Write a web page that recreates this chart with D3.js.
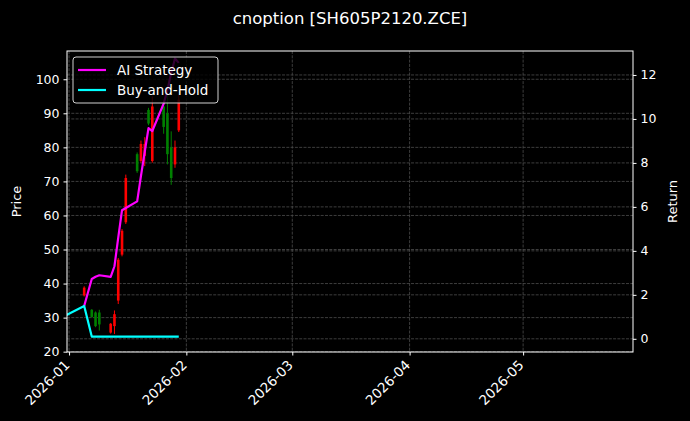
<!DOCTYPE html>
<html>
<head>
<meta charset="utf-8">
<script src="https://cdn.jsdelivr.net/npm/d3@7"></script>
<style>
  html, body { margin: 0; padding: 0; background: #000; }
  svg { display: block; font-family: "DejaVu Sans", sans-serif; }
</style>
</head>
<body>
<div id="chart"></div>
<script>
// candles (price axis)
const candleDates = ['2026-01-05', '2026-01-07', '2026-01-08', '2026-01-09', '2026-01-12', '2026-01-13', '2026-01-14',
    '2026-01-15', '2026-01-16', '2026-01-19', '2026-01-20', '2026-01-21', '2026-01-22', '2026-01-23',
    '2026-01-26', '2026-01-27', '2026-01-28', '2026-01-29', '2026-01-30'];
const opens  = [36.5, 32.3, 31.5, 31.5, 25.6, 27.5, 35.0, 48.5, 58.0, 78.0, 76.0, 77.5, 91.0, 76.0, 92.0, 90.0, 80.0, 75.0, 85.0];
const closes = [38.8, 30.2, 27.5, 28.0, 28.2, 31.0, 47.0, 55.5, 71.0, 73.0, 81.0, 81.0, 87.0, 92.0, 86.0, 78.0, 71.0, 80.0, 94.0];
const highs  = [39.2, 32.5, 31.8, 32.3, 28.4, 32.1, 47.5, 56.0, 72.0, 78.5, 82.0, 83.0, 91.6, 95.0, 93.0, 95.4, 84.7, 82.0, 95.4];
const lows   = [36.2, 30.0, 27.2, 26.2, 25.3, 25.2, 34.0, 48.0, 57.5, 72.5, 75.5, 74.5, 86.5, 75.5, 84.0, 75.0, 69.0, 74.0, 84.5];

// return lines (right axis)
const lineDates = ['2025-12-31', '2026-01-05', '2026-01-07', '2026-01-08', '2026-01-09', '2026-01-12', '2026-01-13',
    '2026-01-14', '2026-01-15', '2026-01-16', '2026-01-19', '2026-01-20', '2026-01-21', '2026-01-22',
    '2026-01-23', '2026-01-26', '2026-01-27', '2026-01-28', '2026-01-29', '2026-01-30'];
const aiReturn = [null, 1.49, 2.72, 2.82, 2.89, 2.82, 3.30, 4.60, 5.85, 5.95, 6.25, 7.40, 8.50, 9.58, 9.45, 10.70, 11.30, 12.10, 12.75, 12.55];
const bhReturn = [1.05, 1.49, 0.10, 0.10, 0.10, 0.10, 0.10, 0.10, 0.10, 0.10, 0.10, 0.10, 0.10, 0.10, 0.10, 0.10, 0.10, 0.10, 0.10, 0.10];

const priceTicks = [20, 30, 40, 50, 60, 70, 80, 90, 100];
const returnTicks = [0, 2, 4, 6, 8, 10, 12];
const monthTicks = ['2026-01-01', '2026-02-01', '2026-03-01', '2026-04-01', '2026-05-01'];
const seriesNames = ['AI Strategy', 'Buy-and-Hold'];
const seriesColors = ['#ff00ff', '#00ffff'];
const chartTitle = 'cnoption [SH605P2120.ZCE]';

const width = 690, height = 421;
const plotLeft = 67, plotRight = 633, plotTop = 51, plotBottom = 352;
const parse = s => new Date(s + 'T00:00:00Z');

const svg = d3.select('#chart').append('svg')
    .attr('width', width)
    .attr('height', height);

svg.append('rect').attr('width', width).attr('height', height).attr('fill', '#000');

const x = d3.scaleUtc()
    .domain([new Date('2025-12-31T11:00:00Z'), new Date('2026-05-30T01:00:00Z')])
    .range([plotLeft, plotRight]);
const yPrice = d3.scaleLinear().domain([19.9, 108.3]).range([plotBottom, plotTop]);
const yRet = d3.scaleLinear().domain([-0.6, 13.09]).range([plotBottom, plotTop]);

svg.append('clipPath').attr('id', 'plot-clip')
    .append('rect')
    .attr('x', plotLeft).attr('y', plotTop)
    .attr('width', plotRight - plotLeft).attr('height', plotBottom - plotTop);

// grid
const grid = svg.append('g')
    .attr('stroke', '#4d4d4d')
    .attr('stroke-width', 0.8)
    .attr('stroke-dasharray', '3,1.3');
grid.selectAll('.gx').data(monthTicks.map(parse)).enter().append('line')
    .attr('x1', d => x(d)).attr('x2', d => x(d))
    .attr('y1', plotTop).attr('y2', plotBottom);
grid.selectAll('.gp').data(priceTicks).enter().append('line')
    .attr('x1', plotLeft).attr('x2', plotRight)
    .attr('y1', d => yPrice(d)).attr('y2', d => yPrice(d));
grid.selectAll('.gr').data(returnTicks).enter().append('line')
    .attr('x1', plotLeft).attr('x2', plotRight)
    .attr('y1', d => yRet(d)).attr('y2', d => yRet(d));

// candles
const candles = candleDates.map((d, i) => ({
    date: parse(d), o: opens[i], c: closes[i], h: highs[i], l: lows[i]
}));
const candleColor = d => d.c >= d.o ? '#ff0000' : '#008000';
const plot = svg.append('g').attr('clip-path', 'url(#plot-clip)');

plot.selectAll('.wick').data(candles).enter().append('line')
    .attr('class', 'wick')
    .attr('x1', d => x(d.date)).attr('x2', d => x(d.date))
    .attr('y1', d => yPrice(d.h)).attr('y2', d => yPrice(d.l))
    .attr('stroke', candleColor)
    .attr('stroke-width', 1);

plot.selectAll('.body').data(candles).enter().append('rect')
    .attr('class', 'body')
    .attr('x', d => x(d.date) - 1.3)
    .attr('width', 2.6)
    .attr('y', d => yPrice(Math.max(d.o, d.c)))
    .attr('height', d => Math.max(1, Math.abs(yPrice(d.o) - yPrice(d.c))))
    .attr('fill', candleColor);

// return lines
const series = [aiReturn, bhReturn];
const line = d3.line()
    .defined(d => d.v !== null)
    .x(d => x(d.date))
    .y(d => yRet(d.v));
series.forEach((vals, k) => {
    const pts = lineDates.map((d, i) => ({ date: parse(d), v: vals[i] }));
    plot.append('path')
        .datum(pts)
        .attr('d', line)
        .attr('fill', 'none')
        .attr('stroke', seriesColors[k])
        .attr('stroke-width', 2.2)
        .attr('stroke-linejoin', 'round');
});

// frame
svg.append('rect')
    .attr('x', plotLeft).attr('y', plotTop)
    .attr('width', plotRight - plotLeft).attr('height', plotBottom - plotTop)
    .attr('fill', 'none').attr('stroke', '#fff').attr('stroke-width', 1);

// axes
const styleAxis = size => g => {
    g.select('.domain').remove();
    g.selectAll('.tick line').attr('stroke', '#fff');
    g.selectAll('.tick text').attr('fill', '#fff')
        .style('font-size', size)
        .style('font-family', '"DejaVu Sans", sans-serif');
};

svg.append('g')
    .attr('transform', `translate(${plotLeft},0)`)
    .call(d3.axisLeft(yPrice).tickValues(priceTicks).tickSize(3.5).tickPadding(4))
    .call(styleAxis('12.5px'));

svg.append('g')
    .attr('transform', `translate(${plotRight},0)`)
    .call(d3.axisRight(yRet).tickValues(returnTicks).tickSize(3.5).tickPadding(4))
    .call(styleAxis('12.5px'));

const xAxis = svg.append('g')
    .attr('transform', `translate(0,${plotBottom})`)
    .call(d3.axisBottom(x).tickValues(monthTicks.map(parse)).tickSize(3.5).tickFormat(d3.utcFormat('%Y-%m')))
    .call(styleAxis('13.5px'));
xAxis.selectAll('.tick text')
    .attr('text-anchor', 'end')
    .attr('dy', 0)
    .attr('y', 0)
    .attr('transform', 'translate(1,14) rotate(-45)');

// labels
svg.append('text')
    .attr('x', width / 2 + 5).attr('y', 24)
    .attr('text-anchor', 'middle')
    .attr('fill', '#fff')
    .style('font-size', '16.5px')
    .text(chartTitle);

svg.append('text')
    .attr('transform', `translate(21,${(plotTop + plotBottom) / 2}) rotate(-90)`)
    .attr('text-anchor', 'middle')
    .attr('fill', '#fff')
    .style('font-size', '13px')
    .text('Price');

svg.append('text')
    .attr('transform', `translate(677,${(plotTop + plotBottom) / 2}) rotate(-90)`)
    .attr('text-anchor', 'middle')
    .attr('fill', '#fff')
    .style('font-size', '13px')
    .text('Return');

// legend
const legend = svg.append('g').attr('transform', 'translate(73,57)');
legend.append('rect')
    .attr('width', 145).attr('height', 46)
    .attr('rx', 3)
    .attr('fill', '#000').attr('fill-opacity', 0.8)
    .attr('stroke', '#d0d0d0').attr('stroke-width', 1);
seriesNames.forEach((name, k) => {
    const yy = 13 + k * 20;
    legend.append('line')
        .attr('x1', 5).attr('x2', 33)
        .attr('y1', yy).attr('y2', yy)
        .attr('stroke', seriesColors[k]).attr('stroke-width', 2.2);
    legend.append('text')
        .attr('x', 44).attr('y', yy + 5)
        .attr('fill', '#fff')
        .style('font-size', '13.5px')
        .text(name);
});
</script>
</body>
</html>
